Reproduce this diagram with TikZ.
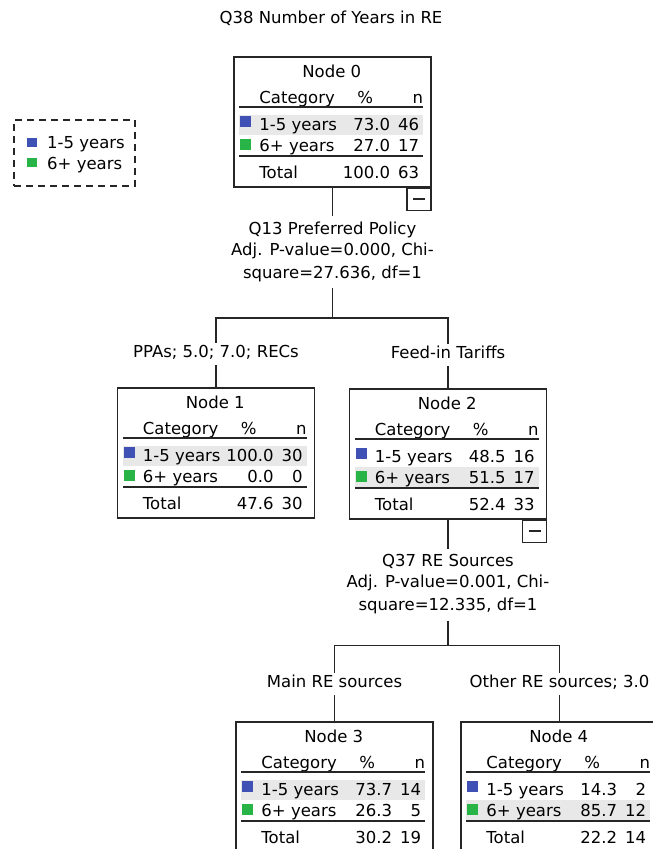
\documentclass[tikz,border=0pt]{standalone}
\usepackage{fontspec}
\setmainfont{DejaVu Sans}
\usetikzlibrary{positioning}
\definecolor{catblue}{RGB}{63,81,181}
\definecolor{catgreen}{RGB}{40,180,70}
\definecolor{rowgray}{RGB}{232,232,232}

\newcommand{\catnode}[9]{%
  \node[nodebox, anchor=north] (n#1) at #2 {};
  \begin{scope}[shift={(n#1.north west)}]
    \fill[rowgray] (6,{39+20*#3}) rectangle (190,{59+20*#3});
    \node[cell, anchor=base] (n#1title) at (98.5,21) {Node #1};
    \node[cell, anchor=base west] (n#1cat) at (26,47) {Category};
    \node[cell, anchor=base] (n#1pct) at (132,47) {\%};
    \node[cell, anchor=base east] (n#1cnt) at (190,47) {n};
    \draw[rule] (6,51) -- (190,51);
    \fill[catblue] (7,60) rectangle (18,71);
    \node[cell, anchor=base west] (n#1a) at (26,74) {1-5 years};
    \node[cell, anchor=base east] (n#1ap) at (157,74) {#4};
    \node[cell, anchor=base east] (n#1an) at (186,74) {#5};
    \fill[catgreen] (7,83) rectangle (18,94);
    \node[cell, anchor=base west] (n#1b) at (26,95) {6+ years};
    \node[cell, anchor=base east] (n#1bp) at (157,95) {#6};
    \node[cell, anchor=base east] (n#1bn) at (186,95) {#7};
    \draw[rule] (6,100) -- (190,100);
    \node[cell, anchor=base west] (n#1t) at (26,122) {Total};
    \node[cell, anchor=base east] (n#1tp) at (157,122) {#8};
    \node[cell, anchor=base east] (n#1tn) at (186,122) {#9};
  \end{scope}}

\begin{document}
\begin{tikzpicture}[x=1pt, y=-1pt, font=\fontsize{16.5}{21}\selectfont,
    nodebox/.style={draw=black!85, line width=1.5pt, minimum width=197pt, minimum height=130pt, inner sep=0pt},
    togglebox/.style={draw=black!85, line width=1.5pt, minimum width=24pt, minimum height=22pt, inner sep=0pt},
    split/.style={align=center, inner sep=6pt},
    branch/.style={inner sep=3pt, text height=12pt, text depth=4pt},
    cell/.style={inner sep=0pt},
    rule/.style={line width=2pt, black!85},
    link/.style={line width=1.6pt, black!85},
    legendbox/.style={draw=black!85, line width=1.5pt, dash pattern=on 7pt off 5pt, minimum width=121pt, minimum height=66pt}
]
\useasboundingbox (0,0) rectangle (653,849);
\clip (0,0) rectangle (653,849);
\fill[white] (0,0) rectangle (653,849);

\node (title) at (331,18) {Q38 Number of Years in RE};

\node[legendbox] (legend) at (74.5,153) {};
\fill[catblue] (27,138) rectangle (37,147);
\node[cell, anchor=base west] (leg1) at (47,148) {1-5 years};
\fill[catgreen] (27,158) rectangle (37,167);
\node[cell, anchor=base west] (leg2) at (47,169) {6+ years};

\catnode{0}{(332.5,56)}{1}{73.0}{46}{27.0}{17}{100.0}{63}
\catnode{1}{(216,387)}{1}{100.0}{30}{0.0}{0}{47.6}{30}
\catnode{2}{(448,388)}{2}{48.5}{16}{51.5}{17}{52.4}{33}
\catnode{3}{(334.5,721)}{1}{73.7}{14}{26.3}{5}{30.2}{19}
\catnode{4}{(559.5,721)}{2}{14.3}{2}{85.7}{12}{22.2}{14}

\node[togglebox, anchor=north east] (m0) at (n0.south east) {};
\draw[link] ([xshift=-6pt]m0.center) -- ([xshift=6pt]m0.center);
\node[togglebox, anchor=north east] (m2) at (n2.south east) {};
\draw[link] ([xshift=-6pt]m2.center) -- ([xshift=6pt]m2.center);

\node[split, below=28pt of n0] (s0) {Q13 Preferred Policy\\Adj. P-value=0.000, Chi-\\[2pt]square=27.636, df=1};
\coordinate[below=30pt of s0] (j0);
\node[branch, above=22pt of n1] (b1) {PPAs; 5.0; 7.0; RECs};
\node[branch, above=22pt of n2] (b2) {Feed-in Tariffs};

\draw[link] (n0) -- (s0);
\draw[link] (s0) -- (j0);
\draw[link] (b1.north) |- (j0) -| (b2.north);
\draw[link] (b1) -- (n1);
\draw[link] (b2) -- (n2);

\node[split, below=29pt of n2] (s1) {Q37 RE Sources\\Adj. P-value=0.001, Chi-\\[2pt]square=12.335, df=1};
\coordinate[below=25pt of s1] (j1);
\node[branch, above=26pt of n3] (b3) {Main RE sources};
\node[branch, above=26pt of n4] (b4) {Other RE sources; 3.0};

\draw[link] (n2) -- (s1);
\draw[link] (s1) -- (j1);
\draw[link] (b3.north) |- (j1) -| (b4.north);
\draw[link] (b3) -- (n3);
\draw[link] (b4) -- (n4);
\end{tikzpicture}
\end{document}
